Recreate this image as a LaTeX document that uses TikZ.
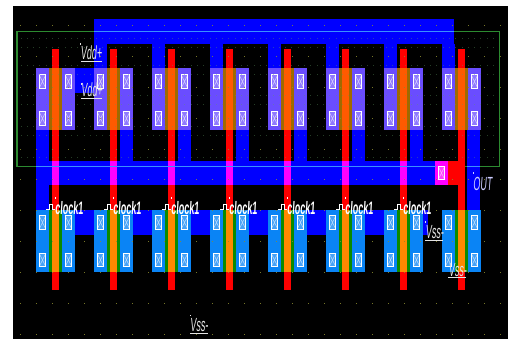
\documentclass[tikz,border=0pt]{standalone}
\usepackage{fontspec}
\newfontfamily\pinfont[FakeStretch=0.47,FakeSlant=0.08]{Liberation Sans}
\newfontfamily\clkfont[FakeStretch=0.5,FakeSlant=0.06]{Liberation Sans Bold}
\definecolor{metal}{HTML}{0000FF}
\definecolor{pdiff}{HTML}{6A4DFF}
\definecolor{ndiff}{HTML}{0A84F5}
\definecolor{pgate}{HTML}{A06A00}
\definecolor{pcore}{HTML}{FF5A00}
\definecolor{ngate}{HTML}{0A8A00}
\definecolor{ncore}{HTML}{FF8800}
\definecolor{poly}{HTML}{FF0000}
\definecolor{via}{HTML}{FF00FF}
\definecolor{wellline}{HTML}{2C8A30}
\definecolor{wellblue}{HTML}{3A90FF}
\definecolor{griddot}{HTML}{8C8C30}
\definecolor{finedot}{HTML}{5E9A60}
\definecolor{pinwhite}{HTML}{E4E4E4}
\tikzset{
  x=1pt,y=-1pt,
  metalfill/.style={fill=metal},
  polyfill/.style={fill=poly},
  contactbox/.style={draw=white,line width=1pt,fill=white,fill opacity=0.25},
  contactx/.style={draw=white,draw opacity=0.6,line width=0.6pt},
  pinlabel/.style={inner sep=0pt,text=pinwhite,font=\pinfont\fontsize{19}{20}\selectfont},
  clklabel/.style={inner sep=0pt,text=white,font=\clkfont\fontsize{18}{19}\selectfont},
  pinline/.style={draw=pinwhite,line width=1pt},
  pintick/.style={fill=pinwhite},
}
\newcommand{\contact}[2]{%
  \draw[contactbox] (#1-3.4,#2-6.8) rectangle (#1+3.4,#2+6.8);
  \draw[contactx] (#1-3.4,#2-6.8) -- (#1+3.4,#2+6.8) (#1+3.4,#2-6.8) -- (#1-3.4,#2+6.8);
}
\begin{document}
\begin{tikzpicture}
\useasboundingbox (0,0) rectangle (509,339);
\fill[white] (0,0) rectangle (509,339);
\fill[black] (13,6) rectangle (508,339);
% well
\draw[wellline,line width=1.1pt] (17,31.5) rectangle (499.5,166.7);
% metal
\fill[metalfill] (94,19) rectangle (454,44);
\foreach \c in {113.5,171.5,229.5,287.5,345.5,403.5,461.5}{
  \fill[metalfill] (\c-19.5,44) rectangle (\c-6.5,69);
}
\fill[metalfill] (75,68.5) rectangle (94,93);
\fill[metalfill] (36,161) rectangle (436,185);
\fill[metalfill] (36,130) rectangle (49,211);
\foreach \c in {113.5,171.5,229.5,287.5,345.5,403.5}{
  \fill[metalfill] (\c+6.5,130) rectangle (\c+19.5,161);
}
\fill[metalfill] (467,130) rectangle (480,211);
\fill[metalfill] (62,210) rectangle (428,235);
% diffusions, gates, poly
\foreach \c in {55.5,113.5,171.5,229.5,287.5,345.5,403.5,461.5}{
  \fill[polyfill] (\c-3.5,49) rectangle (\c+3.5,290);
  \fill[pdiff] (\c-19.5,68.5) rectangle (\c+19.5,130);
  \fill[pgate] (\c-6.5,68.5) rectangle (\c+6.5,130);
  \fill[pcore] (\c-3.5,68.5) rectangle (\c+3.5,130);
  \fill[ndiff] (\c-19.5,210) rectangle (\c+19.5,272);
  \fill[ngate] (\c-6.5,210) rectangle (\c+6.5,272);
  \fill[ncore] (\c-3.5,210) rectangle (\c+3.5,272);
  \contact{\c-13}{81.5}
  \contact{\c+13}{81.5}
  \contact{\c-13}{118.5}
  \contact{\c+13}{118.5}
  \contact{\c-13}{222.5}
  \contact{\c+13}{222.5}
  \contact{\c-13}{260}
  \contact{\c+13}{260}
}
\foreach \c in {55.5,113.5,171.5,229.5,287.5,345.5,403.5}{
  \fill[via] (\c-3.5,161) rectangle (\c+3.5,185);
}
\fill[polyfill] (448,161) rectangle (464.5,185);
\fill[via] (435,161) rectangle (448,185);
\contact{441.5}{173}
% well edge over the metal
\draw[wellblue,line width=1.1pt] (94,31.5) -- (454,31.5);
\draw[wellblue,line width=1.1pt] (36,166.7) -- (436,166.7);
\draw[wellblue,line width=1.1pt] (467,166.7) -- (480,166.7);
% grid
\foreach \k in {0,...,30}{
  \foreach \r in {25,55.9,86.8,117.7,148.6,179.5,210.4,241.3,272.2,303.1,334}{
    \fill[griddot,fill opacity=0.85] (20+16*\k,\r) rectangle +(1,1);
  }
}
\foreach \k in {0,...,75}{
  \foreach \r in {38,47,65,74,95,104,126,135,157}{
    \fill[finedot,fill opacity=0.4] (20.5+6.3*\k,\r) rectangle +(0.9,0.9);
  }
}
% labels
\node[pinlabel,anchor=south west] (vdda) at (80.5,60) {Vdd+};
\draw[pinline] (81,62) -- (102,62);
\fill[pintick] (80,43.5) rectangle +(1.3,1.6);
\node[pinlabel,anchor=south west] (vddb) at (81,97) {Vdd+};
\draw[pinline] (81,98.5) -- (102,98.5);
\fill[pintick] (81,83.5) rectangle +(1.3,1.6);
\node[pinlabel,anchor=south west] (vssa) at (190,332) {Vss-};
\draw[pinline] (190,333.5) -- (208,333.5);
\fill[pintick] (190,314.5) rectangle +(1.3,1.6);
\node[pinlabel,anchor=south west] (vssb) at (425.5,239) {Vss-};
\draw[pinline] (425,240.7) -- (443,240.7);
\fill[pintick] (424.5,221.5) rectangle +(1.3,1.6);
\node[pinlabel,anchor=south west] (vssc) at (448.5,276.5) {Vss-};
\draw[pinline] (448,277.7) -- (466,277.7);
\node[pinlabel,anchor=south west,text=white!80!blue] (outpin) at (473,191) {OUT};
\fill[white!80!blue] (472.5,172.5) rectangle +(1.3,1.6);
\foreach \c/\n in {55.5/a,113.5/b,171.5/c,229.5/d,287.5/e,345.5/f,403.5/g}{
  \node[clklabel,anchor=south west] (clk\n) at (\c-0.5,215) {clock1};
  \fill[white] (\c-0.6,197.5) rectangle +(1.3,1.6);
  \draw[white,line width=0.7pt] (\c-9.5,209) -- (\c-6.5,209) -- (\c-6.5,204) -- (\c-3.5,204) -- (\c-3.5,209) -- (\c-0.5,209);
}
\end{tikzpicture}
\end{document}
